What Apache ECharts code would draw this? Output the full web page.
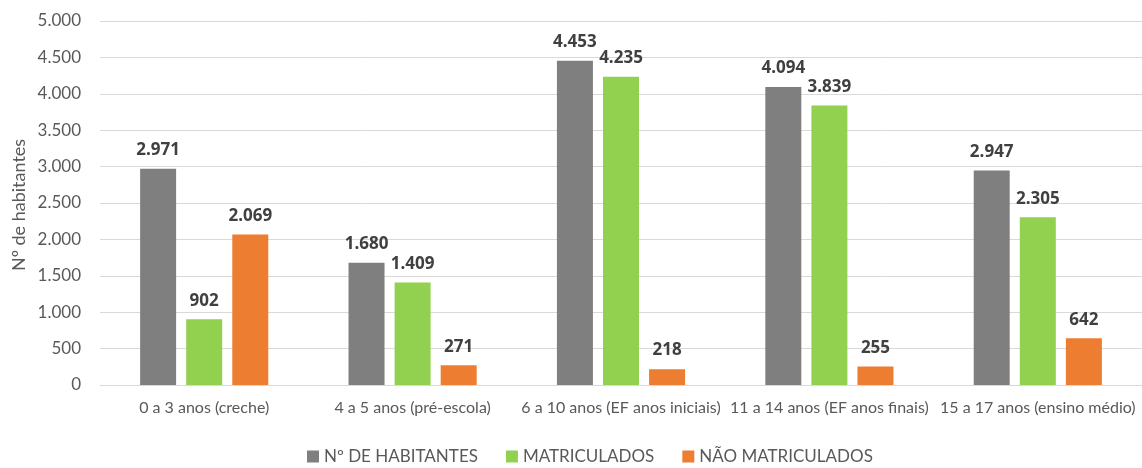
<!DOCTYPE html>
<html><head><meta charset="utf-8">
<script src="https://cdn.jsdelivr.net/npm/echarts@6/dist/echarts.min.js"></script>
<style>html,body{margin:0;padding:0;background:#fff}#c{width:1142px;height:468px}</style>
</head><body><div id="c"></div>
<script>
const categories = ['0 a 3 anos (creche)','4 a 5 anos (pré-escola)','6 a 10 anos (EF anos iniciais)','11 a 14 anos (EF anos finais)','15 a 17 anos (ensino médio)'];
const habitantes = [2971,1680,4453,4094,2947];
const matriculados = [902,1409,4235,3839,2305];
const naoMatriculados = [2069,271,218,255,642];
const seriesNames = ['Nº DE HABITANTES','MATRICULADOS','NÃO MATRICULADOS'];
const yTitle = 'Nº de habitantes';
const colors = ['#7f7f7f','#92d050','#ed7d31'];
const fmt = v => v.toLocaleString('de-DE');
const font = 'Lato, "Open Sans", sans-serif';
const chart = echarts.init(document.getElementById('c'));
const mk = (name, data, color) => ({
  name, type:'bar', data, barWidth:36, barGap:'28%',
  itemStyle:{color},
  label:{show:true, position:'top', distance:10, formatter:p=>fmt(p.value), color:'#404040', fontWeight:'bold', fontSize:17, fontFamily:'"Open Sans", sans-serif'}
});
chart.setOption({
  animation:false,
  textStyle:{fontFamily:font},
  grid:{left:100, width:1050, top:21, bottom:83},
  legend:{bottom:-2, left:302, itemWidth:12, itemHeight:12, itemGap:28, icon:'rect',
    textStyle:{color:'#595959', fontSize:17, fontFamily:font}, data:seriesNames},
  graphic:[{type:'text', x:19, y:205, rotation:Math.PI/2,
    style:{text:yTitle, fill:'#595959', fontSize:18, fontFamily:font, align:'center', verticalAlign:'middle'}}],
  xAxis:{type:'category', data:categories,
    axisLine:{lineStyle:{color:'#d9d9d9'}}, axisTick:{show:false},
    axisLabel:{color:'#595959', fontSize:16, margin:15, interval:0, fontFamily:font}},
  yAxis:{type:'value', min:0, max:5000, interval:500,
    axisLabel:{color:'#595959', fontSize:17, margin:19, formatter:v=>fmt(v), fontFamily:font},
    splitLine:{lineStyle:{color:'#d9d9d9'}}},
  series:[mk(seriesNames[0],habitantes,colors[0]),mk(seriesNames[1],matriculados,colors[1]),mk(seriesNames[2],naoMatriculados,colors[2])]
});
</script></body></html>
